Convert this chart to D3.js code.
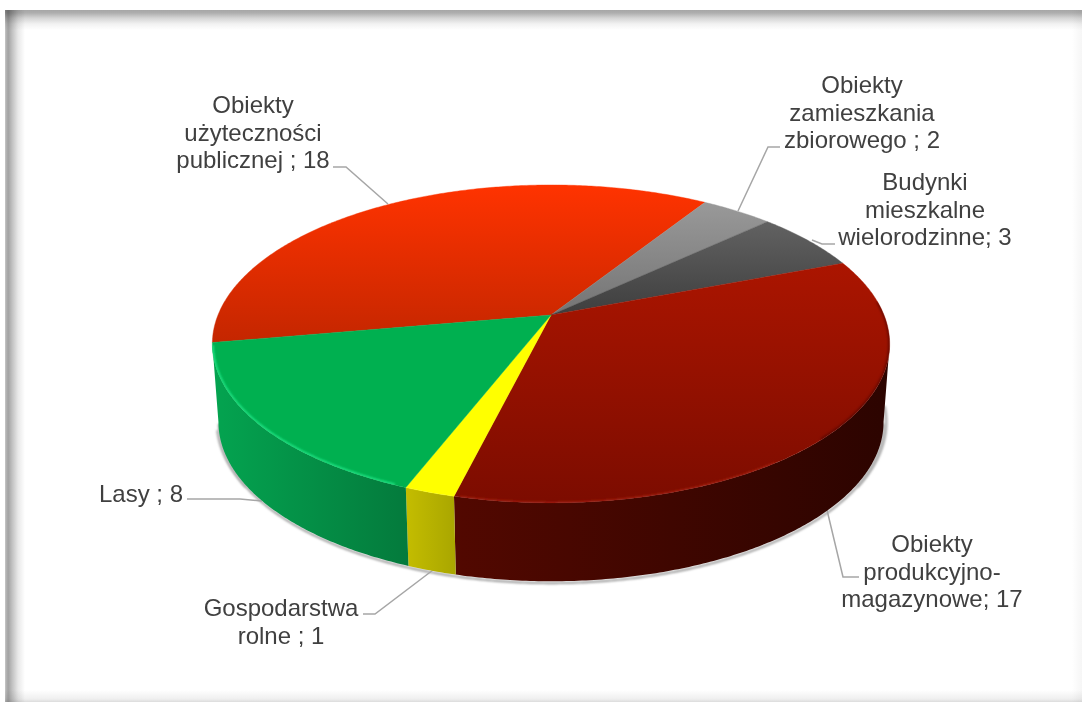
<!DOCTYPE html>
<html><head><meta charset="utf-8">
<script src="https://cdn.jsdelivr.net/npm/d3@7"></script>
<style>html,body{margin:0;padding:0;background:#fff;overflow:hidden}svg{display:block}</style>
</head><body><script>
const categories = ["Obiekty użyteczności publicznej","Obiekty zamieszkania zbiorowego","Budynki mieszkalne wielorodzinne","Obiekty produkcyjno-magazynowe","Gospodarstwa rolne","Lasy"];
const values = [18,2,3,17,1,8];
const labelLines = [
  ["Obiekty","użyteczności","publicznej ; 18"],
  ["Obiekty","zamieszkania","zbiorowego ; 2"],
  ["Budynki","mieszkalne","wielorodzinne; 3"],
  ["Obiekty","produkcyjno-","magazynowe; 17"],
  ["Gospodarstwa","rolne ; 1"],
  ["Lasy ; 8"]
];
const topStops = [["#ff3300","#c42600"],["#999999","#747474"],["#626262","#3e3e3e"],["#ab1500","#7c0c00"],["#ffff00","#ffff00"],["#00b050","#00b050"]];
const wallStops = [["#000","#000"],["#000","#000"],["#000","#000"],["#520800","#2c0400"],["#c4bd00","#a9a600"],["#04a450","#047a3c"]];
const labelAnchor = [[253,113],[862,93],[925,190],[932,552],[281,616],[141,502]];
const leaders = [
  [[333,167],[346,167],[388,204]],
  [[780,147],[768,147],[738,211]],
  [[835,244],[822,244],[812,240]],
  [[859,577],[843,577],[827,510]],
  [[363,614],[375,614],[433,570]],
  [[187,499],[240,499],[262,501]]
];

const W=1082,H=702,cx=551,k=0.182,TAU=Math.PI*2;
const START=260*Math.PI/180;
const svg=d3.select("body").append("svg").attr("width",W).attr("height",H);
const defs=svg.append("defs");
function grad(id,x1,y1,x2,y2,stops){
  const g=defs.append("linearGradient").attr("id",id).attr("gradientUnits","userSpaceOnUse")
    .attr("x1",x1).attr("y1",y1).attr("x2",x2).attr("y2",y2);
  stops.forEach(s=>g.append("stop").attr("offset",s[0]).attr("stop-color",s[1]));
}
defs.append("filter").attr("id","b1").attr("x","-10%").attr("y","-10%").attr("width","120%").attr("height","120%")
  .append("feGaussianBlur").attr("stdDeviation",1.2);

// frame
grad("fB",0,690,0,702,[[0,"#ffffff"],[0.75,"#efefef"],[1,"#dcdcdc"]]);
grad("fR",1072,0,1082,0,[[0,"#ffffff"],[1,"#f6f6f6"]]);
grad("fT",0,10,0,30,[[0,"#a6a6a6"],[0.15,"#aeaeae"],[0.4,"#d4d4d4"],[0.7,"#f2f2f2"],[1,"#ffffff"]]);
grad("fL",5,0,25,0,[[0,"#c8c8c8"],[0.08,"#b0b0b0"],[0.16,"#a2a2a2"],[0.35,"#c0c0c0"],[0.65,"#e8e8e8"],[1,"#ffffff"]]);
const frame=svg.append("g").style("isolation","isolate");
const frameRects=[
  [5,690,W-5,12,"fB"],
  [1072,10,10,H-10,"fR"],
  [5,10,W-5,20,"fT"],
  [5,10,20,H-10,"fL"]
];
frame.selectAll("rect").data(frameRects).join("rect")
  .attr("x",d=>d[0]).attr("y",d=>d[1]).attr("width",d=>d[2]).attr("height",d=>d[3])
  .attr("fill",d=>`url(#${d[4]})`).style("mix-blend-mode","multiply");

// perspective projection of the unit disc, z=0 top face, z=1 bottom face
const sxTop=d3.scaleLinear().domain([-1,1]).range([cx-333,cx+333]);
const sxBot=d3.scaleLinear().domain([-1,1]).range([cx-327,cx+327]);
const syTop=d3.scaleLinear().domain([-1,1]).range([315+153.7,315-153.7]);
const syBot=d3.scaleLinear().domain([-1,1]).range([393+154,393-154]);
function proj(a,bottom){
  const u=Math.sin(a),v=Math.cos(a),w=1+k*v;
  return bottom?[sxBot(u/w),syBot(v/w)]:[sxTop(u/w),syTop(v/w)];
}
const line=d3.line();
function arcPts(a0,a1,bottom){
  const n=Math.max(2,Math.ceil((a1-a0)/0.01));
  return d3.range(n+1).map(i=>proj(a0+(a1-a0)*i/n,bottom));
}
const pie=d3.pie().sort(null).startAngle(START).endAngle(START+TAU);
const arcs=pie(values);
const APEX=[sxTop(0),syTop(0)];

const frontA=100.5*Math.PI/180, frontB=259.5*Math.PI/180;

// shadow below the body
const sil=arcPts(frontA,frontB,true);
svg.append("path").attr("d",line(sil)).attr("fill","none").attr("stroke","#a0a0a0").attr("stroke-width",2.2)
  .attr("filter","url(#b1)").attr("transform","translate(0.5,1.8)");
svg.append("path").attr("d",line(arcPts(frontA-0.1,frontA+0.4,true))).attr("fill","none").attr("stroke","#b4b4b4").attr("stroke-width",3)
  .attr("filter","url(#b1)").attr("transform","translate(2.5,0)");
svg.append("path").attr("d",line(arcPts(frontB-0.4,frontB-0.05,true))).attr("fill","none").attr("stroke","#b4b4b4").attr("stroke-width",2.5)
  .attr("filter","url(#b1)").attr("transform","translate(-1.5,0)");

// leader lines
svg.append("g").selectAll("path").data(leaders).join("path")
  .attr("d",d=>line(d)).attr("fill","none").attr("stroke","#a6a6a6").attr("stroke-width",1.5);

// walls
arcs.forEach((d,i)=>{
  let s=d.startAngle,e=d.endAngle;
  if(s>TAU){s-=TAU;e-=TAU;}
  const lo=Math.max(s,frontA), hi=Math.min(e,frontB);
  if(hi<=lo) return;
  const T=arcPts(lo,hi,false), B=arcPts(lo,hi,true).reverse();
  const xs=T.concat(B).map(p=>p[0]);
  grad("w"+i,d3.min(xs),0,d3.max(xs),0,[[0,wallStops[i][0]],[1,wallStops[i][1]]]);
  svg.append("path").attr("d",line(T.concat(B))+"Z").attr("fill","url(#w"+i+")");
});

// top face
const clip=defs.append("clipPath").attr("id","topClip");
clip.append("path").attr("d",line(arcPts(0,TAU,false))+"Z");
arcs.forEach((d,i)=>{
  const pts=[APEX].concat(arcPts(d.startAngle,d.endAngle,false));
  const ys=pts.map(p=>p[1]);
  grad("t"+i,0,d3.min(ys),0,d3.max(ys),[[0,topStops[i][0]],[1,topStops[i][1]]]);
  svg.append("path").attr("d",line(pts)+"Z").attr("fill","url(#t"+i+")")
    .attr("stroke","url(#t"+i+")").attr("stroke-width",0.4);
});

// bevel highlights along the rim
const rim=svg.append("g").attr("clip-path","url(#topClip)");
rim.append("path").attr("d",line(arcPts(203*Math.PI/180,259*Math.PI/180,false)))
  .attr("fill","none").attr("stroke","#1fe080").attr("stroke-width",3).attr("filter","url(#b1)");
rim.append("path").attr("d",line(arcPts(145*Math.PI/180,193*Math.PI/180,false)))
  .attr("fill","none").attr("stroke","#a82412").attr("stroke-width",2).attr("filter","url(#b1)");
rim.append("path").attr("d",line(arcPts(85*Math.PI/180,135*Math.PI/180,false)))
  .attr("fill","none").attr("stroke","#3a0500").attr("stroke-width",3).attr("filter","url(#b1)").attr("opacity",0.5);

// labels
const lab=svg.append("g").attr("font-family","'Liberation Sans',Arial,sans-serif").attr("font-size",24).attr("fill","#404040").attr("text-anchor","middle");
labelLines.forEach((ls,i)=>{
  ls.forEach((t,j)=>{
    lab.append("text").attr("x",labelAnchor[i][0]).attr("y",labelAnchor[i][1]+j*27.6).text(t);
  });
});
</script></body></html>
